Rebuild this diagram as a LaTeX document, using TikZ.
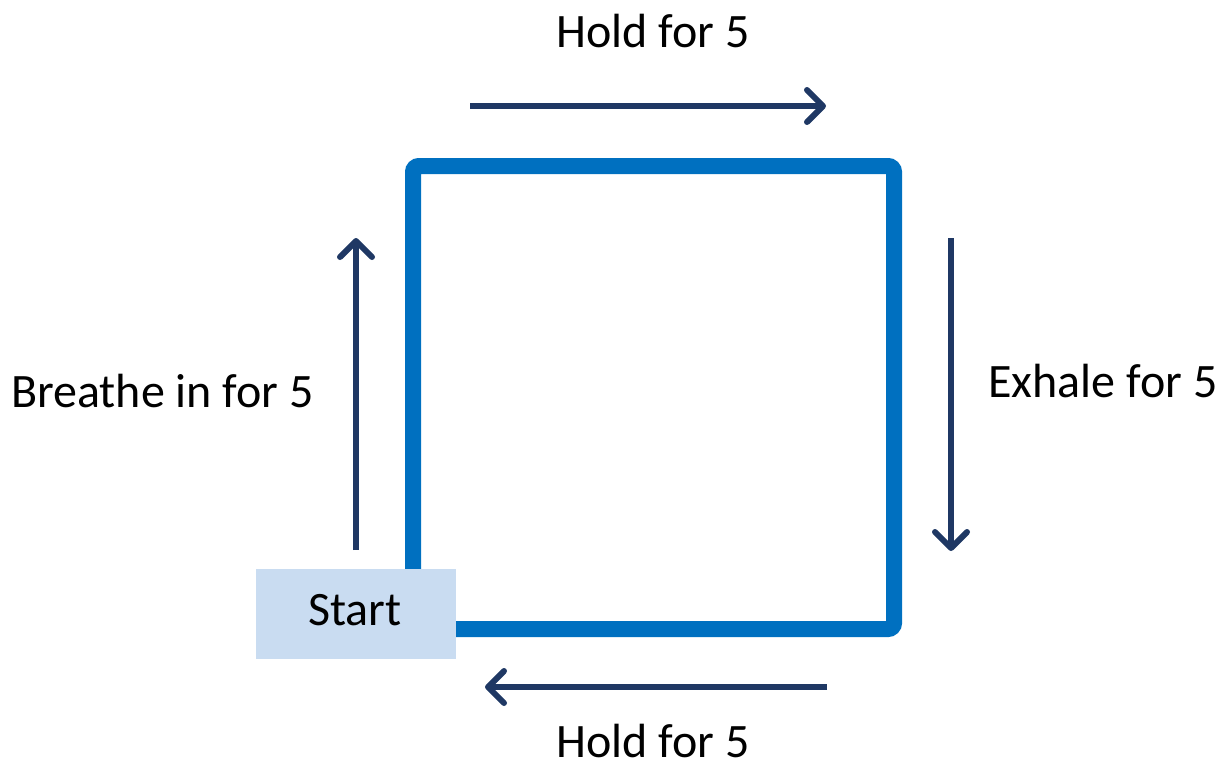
\documentclass[tikz,border=0pt]{standalone}
\usepackage{fontspec}
\setmainfont{Carlito}
\usetikzlibrary{arrows.meta}
\definecolor{boxblue}{HTML}{0070C0}
\definecolor{navy}{HTML}{1F3864}
\definecolor{startfill}{HTML}{C9DCF1}
\begin{document}
\begin{tikzpicture}[x=1pt,y=-1pt,
  lbl/.style={font=\fontsize{48}{56}\selectfont, inner sep=0pt, anchor=base},
  flow/.style={draw=navy, line width=6pt,
    -{Straight Barb[length=16pt,width=32pt,line width=6pt,line cap=round,line join=round]}},
  startbox/.style={fill=startfill, minimum width=200pt, minimum height=90pt, inner sep=0pt}]
\useasboundingbox (0,0) rectangle (1226,758);
% the square path
\coordinate (tl) at (413,166);
\coordinate (tr) at (894,166);
\coordinate (br) at (894,629);
\coordinate (bl) at (413,629);
\draw[boxblue, line width=16pt, rounded corners=6pt] (bl) -- (tl) -- (tr) -- (br) -- (bl);
\node[startbox] (start) at (356,614) {};
\node[lbl] (starttext) at (355,625) {Start};
% direction arrows
\coordinate (a1) at (356,550); \coordinate (a2) at (356,238);
\coordinate (b1) at (470,106); \coordinate (b2) at (826,106);
\coordinate (c1) at (951,238); \coordinate (c2) at (951,551);
\coordinate (d1) at (827,687); \coordinate (d2) at (485,687);
\draw[flow] (a1) -- (a2);
\draw[flow] (b1) -- (b2);
\draw[flow] (c1) -- (c2);
\draw[flow] (d1) -- (d2);
% labels
\node[lbl] (ltop) at (653,47) {Hold for 5};
\node[lbl] (lleft) at (162.5,407) {Breathe in for 5};
\node[lbl] (lright) at (1103,397) {Exhale for 5};
\node[lbl] (lbot) at (653,757) {Hold for 5};
\end{tikzpicture}
\end{document}
